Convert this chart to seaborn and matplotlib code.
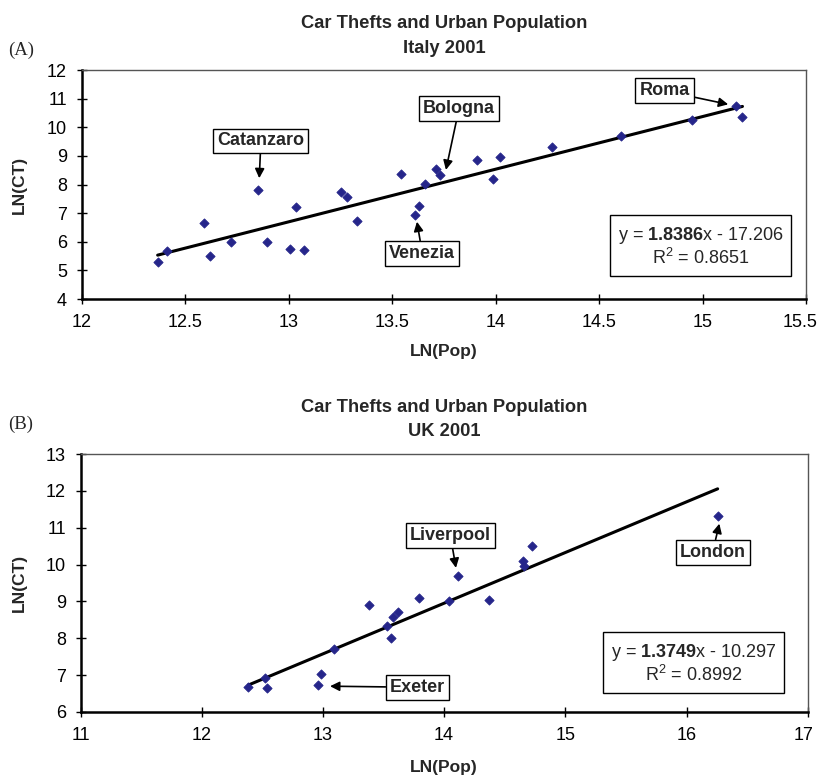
import numpy as np
import pandas as pd
import matplotlib
matplotlib.use("Agg")
import matplotlib.pyplot as plt
import matplotlib.transforms as mtransforms
import seaborn as sns

# ---------------- data ----------------
italy_ln_pop = [12.367, 12.411, 12.592, 12.621, 12.723, 12.852, 12.895, 13.006, 13.035,
                13.075, 13.253, 13.280, 13.330, 13.543, 13.610, 13.628, 13.660, 13.710,
                13.731, 13.910, 13.986, 14.022, 14.272, 14.607, 14.947, 15.164, 15.193]
italy_ln_ct = [5.28, 5.69, 6.64, 5.50, 5.99, 7.81, 5.98, 5.76, 7.22,
               5.71, 7.74, 7.57, 6.74, 8.38, 6.93, 7.25, 8.03, 8.53,
               8.32, 8.86, 8.18, 8.96, 9.32, 9.70, 10.25, 10.74, 10.37]
italy_slope, italy_intercept, italy_r2 = 1.8386, -17.206, 0.8651

uk_ln_pop = [12.385, 12.525, 12.536, 12.960, 12.982, 13.089, 13.378, 13.526, 13.559,
             13.581, 13.617, 13.790, 14.040, 14.117, 14.368, 14.648, 14.659, 14.725, 16.257]
uk_ln_ct = [6.69, 6.93, 6.66, 6.72, 7.02, 7.72, 8.91, 8.33, 8.02,
            8.57, 8.72, 9.09, 9.00, 9.69, 9.05, 10.09, 9.95, 10.51, 11.33]
uk_slope, uk_intercept, uk_r2 = 1.3749, -10.297, 0.8992

italy_xticks = [12, 12.5, 13, 13.5, 14, 14.5, 15, 15.5]
italy_yticks = [4, 5, 6, 7, 8, 9, 10, 11, 12]
uk_xticks = [11, 12, 13, 14, 15, 16, 17]
uk_yticks = [6, 7, 8, 9, 10, 11, 12, 13]

title_main = "Car Thefts and Urban Population"
italy_sub = "Italy 2001"
uk_sub = "UK 2001"

# ---------------- style ----------------
sns.set_theme(style="white")
plt.rcParams["font.family"] = ["Liberation Sans", "DejaVu Sans"]
plt.rcParams["mathtext.fontset"] = "custom"
plt.rcParams["mathtext.rm"] = "Liberation Sans"
plt.rcParams["mathtext.it"] = "Liberation Sans"
plt.rcParams["mathtext.bf"] = "Liberation Sans:bold"

W, H = 818, 778
fig = plt.figure(figsize=(W / 100, H / 100), dpi=100)

marker_color = "#25258a"


def px_box(left, top, right, bottom):
    return [left / W, 1 - bottom / H, (right - left) / W, (bottom - top) / H]


ax1 = fig.add_axes(px_box(81.7, 70, 806, 299))
ax2 = fig.add_axes(px_box(80.5, 454, 807.7, 712))


def style_axes(ax, xticks, yticks, xlab_y, ylab_x):
    ax.set_xlim(xticks[0], xticks[-1])
    ax.set_ylim(yticks[0], yticks[-1])
    ax.set_xticks(xticks)
    ax.set_yticks(yticks)
    ax.set_xticklabels([f"{t:g}" for t in xticks])
    ax.set_yticklabels([f"{t:g}" for t in yticks])
    for s in ["left", "bottom"]:
        ax.spines[s].set_linewidth(1.8)
        ax.spines[s].set_color("black")
    for s in ["top", "right"]:
        ax.spines[s].set_linewidth(1.0)
        ax.spines[s].set_color("#555555")
    ax.tick_params(axis="both", which="both", direction="inout", length=7, width=1,
                   colors="black", labelsize=13, pad=7, left=True, bottom=True)
    ax.set_xlabel("LN(Pop)", fontsize=12.5, fontweight="bold")
    ax.set_ylabel("LN(CT)", fontsize=12.5, fontweight="bold")
    ax.xaxis.set_label_coords(0.5, xlab_y)
    ax.yaxis.set_label_coords(ylab_x, 0.5)
    ax.xaxis.label.set_va("center")
    ax.yaxis.label.set_va("center")
    ax.grid(False)


def draw_panel(ax, xs, ys, slope, intercept):
    df = pd.DataFrame({"ln_pop": xs, "ln_ct": ys})
    xl = np.array([df["ln_pop"].min(), df["ln_pop"].max()])
    line_df = pd.DataFrame({"ln_pop": xl, "fit": slope * xl + intercept})
    sns.lineplot(data=line_df, x="ln_pop", y="fit", ax=ax, color="black", lw=2.2, zorder=2)
    sns.scatterplot(data=df, x="ln_pop", y="ln_ct", ax=ax, marker="D", s=22,
                    color=marker_color, edgecolor=marker_color, linewidth=0.6, zorder=3)


draw_panel(ax1, italy_ln_pop, italy_ln_ct, italy_slope, italy_intercept)
draw_panel(ax2, uk_ln_pop, uk_ln_ct, uk_slope, uk_intercept)

style_axes(ax1, italy_xticks, italy_yticks, -0.231, -0.0866)
style_axes(ax2, uk_xticks, uk_yticks, -0.217, -0.0846)

# keep the last x tick labels inside the figure edge
for ax, shift in ((ax1, -6), (ax2, -4)):
    lab = ax.get_xticklabels()[-1]
    lab.set_transform(lab.get_transform() +
                      mtransforms.ScaledTranslation(shift / 100, 0, fig.dpi_scale_trans))

box = dict(boxstyle="square,pad=0.22", fc="white", ec="black", lw=1.0)
arrow = dict(arrowstyle="-|>", color="black", lw=1.2, mutation_scale=14,
             shrinkA=0, shrinkB=0)


def label(ax, text, tip, pos):
    ax.annotate(text, xy=tip, xytext=pos, fontsize=13, fontweight="bold",
                ha="center", va="center", bbox=box, arrowprops=arrow, zorder=5)


label(ax1, "Catanzaro", (12.858, 8.22), (12.866, 9.52))
label(ax1, "Bologna", (13.760, 8.51), (13.823, 10.64))
label(ax1, "Roma", (15.124, 10.80), (14.816, 11.27))
label(ax1, "Venezia", (13.62, 6.70), (13.646, 5.59))

label(ax2, "Liverpool", (14.098, 9.91), (14.051, 10.80))
label(ax2, "Exeter", (13.059, 6.70), (13.781, 6.67))
label(ax2, "London", (16.271, 11.11), (16.215, 10.33))

eq_box = dict(boxstyle="square,pad=0.42", fc="white", ec="black", lw=1.0)


def equation(ax, slope, intercept, r2, pos):
    sign = "-" if intercept < 0 else "+"
    txt = (f"y = $\\mathbf{{{slope:.4f}}}$x {sign} {abs(intercept):.3f}\n"
           f"R$^2$ = {r2:.4f}")
    ax.text(pos[0], pos[1], txt, fontsize=13, ha="center", va="center",
            multialignment="center", linespacing=1.15, bbox=eq_box, zorder=5)


equation(ax1, italy_slope, italy_intercept, italy_r2, (14.991, 5.83))
equation(ax2, uk_slope, uk_intercept, uk_r2, (16.059, 7.31))


def title_lines(ax, sub, base1, base2):
    bb = ax.get_position()
    xc = (bb.x0 + bb.x1) / 2
    fig.text(xc, 1 - base1 / H, title_main, ha="center", va="baseline",
             fontsize=13.2, fontweight="bold")
    fig.text(xc, 1 - base2 / H, sub, ha="center", va="baseline",
             fontsize=13.2, fontweight="bold")


title_lines(ax1, italy_sub, 28.3, 53.3)
title_lines(ax2, uk_sub, 411.5, 436.5)

fig.text(8 / W, 1 - 55 / H, "(A)", family=["Liberation Serif", "DejaVu Serif"],
         fontsize=13.5, ha="left", va="baseline")
fig.text(8 / W, 1 - 429 / H, "(B)", family=["Liberation Serif", "DejaVu Serif"],
         fontsize=13.5, ha="left", va="baseline")

fig.savefig("out.png", dpi=100, facecolor="white")
